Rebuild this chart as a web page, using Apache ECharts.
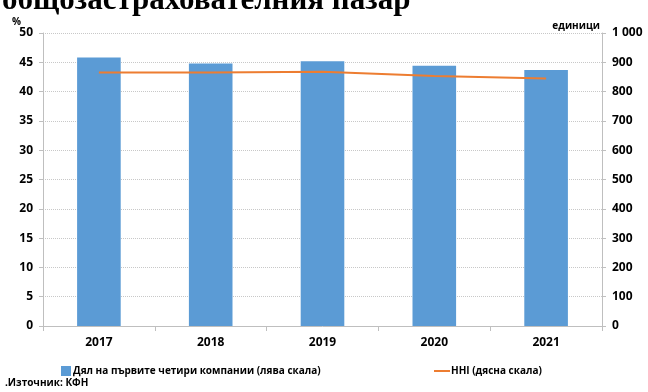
<!DOCTYPE html>
<html>
<head>
<meta charset="utf-8">
<script src="https://cdn.jsdelivr.net/npm/echarts@6/dist/echarts.min.js"></script>
<style>
  html, body { margin: 0; padding: 0; background: #fff; }
  #chart { width: 648px; height: 392px; }
</style>
</head>
<body>
<div id="chart"></div>
<script>
// данни
var years = ["2017", "2018", "2019", "2020", "2021"];
var shareTop4 = [45.8, 44.8, 45.2, 44.4, 43.7];
var hhi = [865, 865, 868, 853, 845];

var barName = "Дял на първите четири компании (лява скала)";
var lineName = "HHI (дясна скала)";
var font = "'Open Sans', 'DejaVu Sans', sans-serif";

var chart = echarts.init(document.getElementById("chart"));
var option = {
  animation: false,
  textStyle: { fontFamily: font },
  graphic: [
    {
      type: "text",
      left: 2,
      top: -15,
      style: {
        text: "общозастрахователния пазар",
        font: "bold 31px 'Liberation Serif', serif",
        fill: "#000"
      }
    },
    {
      type: "text",
      left: 5,
      top: 378,
      style: {
        text: ".Източник: КФН",
        font: "bold 10px " + font,
        fill: "#000"
      }
    }
  ],
  grid: {
    left: 43,
    right: 46,
    top: 33,
    bottom: 66
  },
  legend: [
    {
      data: [{ name: barName, icon: "rect" }],
      left: 56,
      top: 361,
      itemWidth: 10,
      itemHeight: 10,
      textStyle: { fontFamily: font, fontWeight: "bold", fontSize: 10, color: "#000", padding: [0, 0, 0, -3] }
    },
    {
      data: [{ name: lineName, icon: "rect" }],
      left: 429,
      top: 361,
      itemWidth: 16,
      itemHeight: 2,
      textStyle: { fontFamily: font, fontWeight: "bold", fontSize: 10, color: "#000", padding: [0, 0, 0, -4] }
    }
  ],
  xAxis: {
    type: "category",
    data: years,
    axisLine: { lineStyle: { color: "#bfbfbf" } },
    axisTick: { show: true, length: 5, lineStyle: { color: "#bfbfbf" } },
    axisLabel: { color: "#000", fontWeight: "bold", fontSize: 12, margin: 11 }
  },
  yAxis: [
    {
      type: "value",
      min: 0,
      max: 50,
      interval: 5,
      name: "%",
      nameLocation: "end",
      nameGap: 2,
      nameTextStyle: { color: "#000", fontWeight: "bold", fontSize: 10, align: "right", padding: [0, 22, 0, 0] },
      axisLine: { show: true, lineStyle: { color: "#bfbfbf" } },
      axisTick: { show: true, length: 4, lineStyle: { color: "#bfbfbf" } },
      axisLabel: { color: "#000", fontWeight: "bold", fontSize: 12, margin: 10 },
      splitLine: { lineStyle: { color: "#c8c8c8", type: "dotted" } }
    },
    {
      type: "value",
      min: 0,
      max: 1000,
      interval: 100,
      position: "right",
      name: "единици",
      nameLocation: "end",
      nameGap: 2,
      nameTextStyle: { color: "#000", fontWeight: "bold", fontSize: 10, align: "right", padding: [0, 2, 0, 0] },
      axisLine: { show: true, lineStyle: { color: "#bfbfbf" } },
      axisTick: { show: true, length: 4, lineStyle: { color: "#bfbfbf" } },
      axisLabel: {
        color: "#000",
        fontWeight: "bold",
        fontSize: 12,
        margin: 10,
        formatter: function (v) {
          return v === 1000 ? "1 000" : String(v);
        }
      },
      splitLine: { show: false }
    }
  ],
  series: [
    {
      name: barName,
      type: "bar",
      data: shareTop4,
      yAxisIndex: 0,
      barWidth: "39%",
      itemStyle: { color: "#5b9bd5" }
    },
    {
      name: lineName,
      type: "line",
      data: hhi,
      yAxisIndex: 1,
      symbol: "none",
      lineStyle: { color: "#ed7d31", width: 2 },
      itemStyle: { color: "#ed7d31" }
    }
  ]
};
chart.setOption(option);
</script>
</body>
</html>
